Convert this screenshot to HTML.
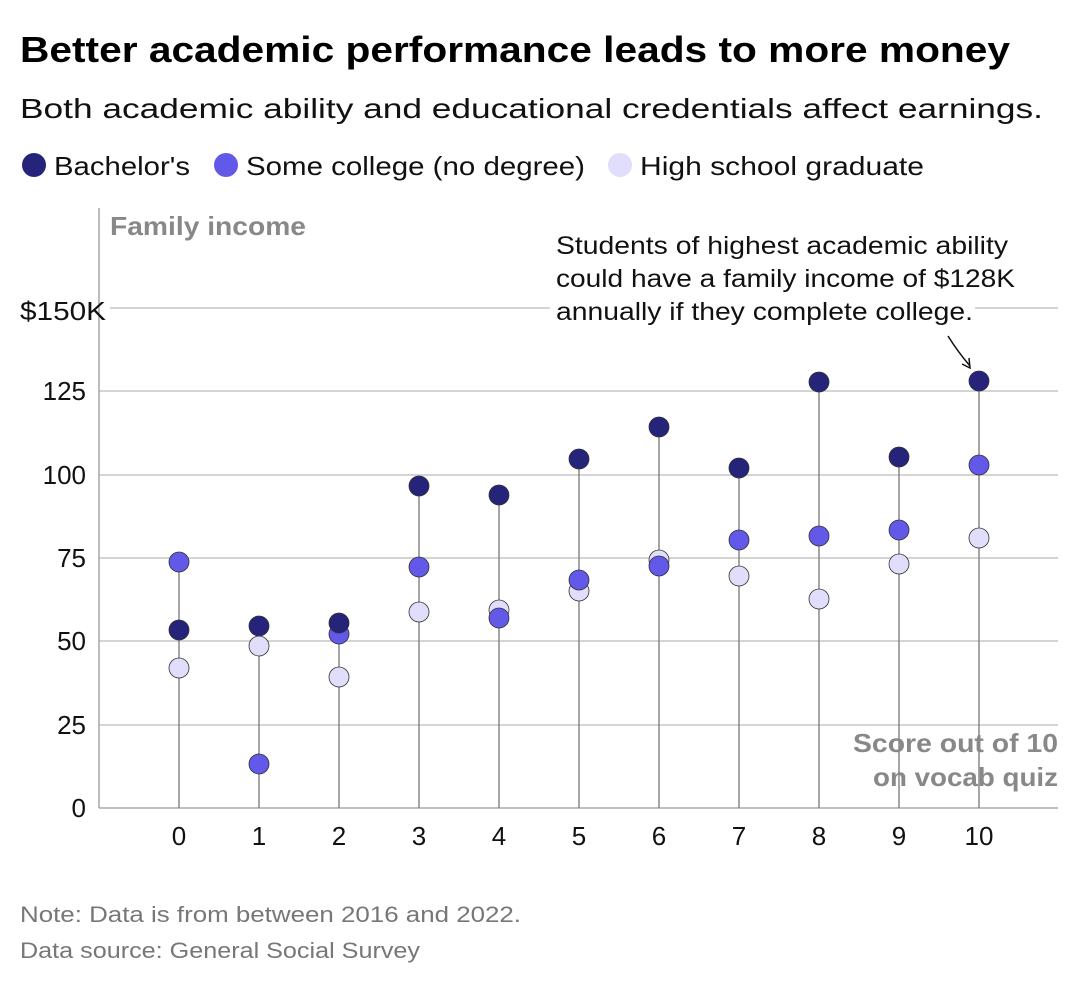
<!DOCTYPE html>
<html><head><meta charset="utf-8"><style>
body{margin:0;background:#fff;font-family:"Liberation Sans",sans-serif;}
</style></head><body>
<svg width="1080" height="986" xmlns="http://www.w3.org/2000/svg" font-family="Liberation Sans, sans-serif">
<text x="20" y="62" font-size="36" font-weight="bold" fill="#000" textLength="990" lengthAdjust="spacingAndGlyphs">Better academic performance leads to more money</text>
<text x="20" y="118" font-size="28" fill="#111" textLength="1023" lengthAdjust="spacingAndGlyphs">Both academic ability and educational credentials affect earnings.</text>
<circle cx="34" cy="165" r="12" fill="#25237a"/><text x="54" y="175" font-size="26" fill="#111" textLength="136" lengthAdjust="spacingAndGlyphs">Bachelor's</text>
<circle cx="226" cy="165" r="12" fill="#6359e9"/><text x="246" y="175" font-size="26" fill="#111" textLength="339" lengthAdjust="spacingAndGlyphs">Some college (no degree)</text>
<circle cx="620" cy="165" r="12" fill="#e0defa"/><text x="640" y="175" font-size="26" fill="#111" textLength="284" lengthAdjust="spacingAndGlyphs">High school graduate</text>
<g stroke="#bbb" stroke-width="1.3">
<line x1="110" y1="308" x2="1058" y2="308"/><line x1="99" y1="391" x2="1058" y2="391"/>
<line x1="99" y1="475" x2="1058" y2="475"/><line x1="99" y1="558" x2="1058" y2="558"/>
<line x1="99" y1="641" x2="1058" y2="641"/><line x1="99" y1="725" x2="1058" y2="725"/>
</g>
<line x1="99" y1="208" x2="99" y2="808" stroke="#999" stroke-width="1.3"/>
<line x1="99" y1="808" x2="1058" y2="808" stroke="#999" stroke-width="1.3"/>
<text x="110" y="235" font-size="26" font-weight="bold" fill="#888" textLength="196" lengthAdjust="spacingAndGlyphs">Family income</text>
<g font-size="26" fill="#111" text-anchor="end">
<text x="106" y="320" textLength="86" lengthAdjust="spacingAndGlyphs">$150K</text><text x="86" y="400">125</text><text x="86" y="484">100</text>
<text x="86" y="567">75</text><text x="86" y="650">50</text><text x="86" y="734">25</text><text x="86" y="817">0</text>
</g>
<g font-size="26" fill="#111" text-anchor="middle">
<text x="179" y="845">0</text><text x="259" y="845">1</text><text x="339" y="845">2</text><text x="419" y="845">3</text>
<text x="499" y="845">4</text><text x="579" y="845">5</text><text x="659" y="845">6</text><text x="739" y="845">7</text>
<text x="819" y="845">8</text><text x="899" y="845">9</text><text x="979" y="845">10</text>
</g>
<g stroke="#888" stroke-width="1.5">
<line x1="179" y1="808" x2="179" y2="562"/><line x1="259" y1="808" x2="259" y2="626"/>
<line x1="339" y1="808" x2="339" y2="623"/><line x1="419" y1="808" x2="419" y2="486"/>
<line x1="499" y1="808" x2="499" y2="495"/><line x1="579" y1="808" x2="579" y2="459"/>
<line x1="659" y1="808" x2="659" y2="427"/><line x1="739" y1="808" x2="739" y2="468"/>
<line x1="819" y1="808" x2="819" y2="382"/><line x1="899" y1="808" x2="899" y2="457"/>
<line x1="979" y1="808" x2="979" y2="381"/>
</g>
<g stroke="#333" stroke-width="0.8" fill="#e0defa">
<circle cx="179" cy="668" r="10"/><circle cx="259" cy="646" r="10"/><circle cx="339" cy="677" r="10"/>
<circle cx="419" cy="612" r="10"/><circle cx="499" cy="610" r="10"/><circle cx="579" cy="591" r="10"/>
<circle cx="659" cy="560" r="10"/><circle cx="739" cy="576" r="10"/><circle cx="819" cy="599" r="10"/>
<circle cx="899" cy="564" r="10"/><circle cx="979" cy="538" r="10"/>
</g>
<g stroke="#333" stroke-width="0.8" fill="#6359e9">
<circle cx="179" cy="562" r="10"/><circle cx="259" cy="764" r="10"/><circle cx="339" cy="634" r="10"/>
<circle cx="419" cy="567" r="10"/><circle cx="499" cy="618" r="10"/><circle cx="579" cy="580" r="10"/>
<circle cx="659" cy="566" r="10"/><circle cx="739" cy="540" r="10"/><circle cx="819" cy="536" r="10"/>
<circle cx="899" cy="530" r="10"/><circle cx="979" cy="465" r="10"/>
</g>
<g stroke="#333" stroke-width="0.8" fill="#25237a">
<circle cx="179" cy="630" r="10"/><circle cx="259" cy="626" r="10"/><circle cx="339" cy="623" r="10"/>
<circle cx="419" cy="486" r="10"/><circle cx="499" cy="495" r="10"/><circle cx="579" cy="459" r="10"/>
<circle cx="659" cy="427" r="10"/><circle cx="739" cy="468" r="10"/><circle cx="819" cy="382" r="10"/>
<circle cx="899" cy="457" r="10"/><circle cx="979" cy="381" r="10"/>
</g>
<rect x="550" y="228" width="425" height="98" fill="#fff"/>
<g font-size="25" fill="#111">
<text x="556" y="254" textLength="452" lengthAdjust="spacingAndGlyphs">Students of highest academic ability</text>
<text x="556" y="287" textLength="459" lengthAdjust="spacingAndGlyphs">could have a family income of $128K</text>
<text x="556" y="320" textLength="417" lengthAdjust="spacingAndGlyphs">annually if they complete college.</text>
</g>
<path d="M948 336 Q958 352 970 366" stroke="#111" stroke-width="1.5" fill="none"/>
<path d="M962 364 L970 368 L969 358" stroke="#111" stroke-width="1.5" fill="none"/>
<g font-size="26" font-weight="bold" fill="#888" text-anchor="end">
<text x="1058" y="752" textLength="205" lengthAdjust="spacingAndGlyphs">Score out of 10</text><text x="1058" y="786" textLength="185" lengthAdjust="spacingAndGlyphs">on vocab quiz</text>
</g>
<text x="20" y="922" font-size="22" fill="#777" textLength="501" lengthAdjust="spacingAndGlyphs">Note: Data is from between 2016 and 2022.</text>
<text x="20" y="958" font-size="22" fill="#777" textLength="400" lengthAdjust="spacingAndGlyphs">Data source: General Social Survey</text>
</svg>
</body></html>
